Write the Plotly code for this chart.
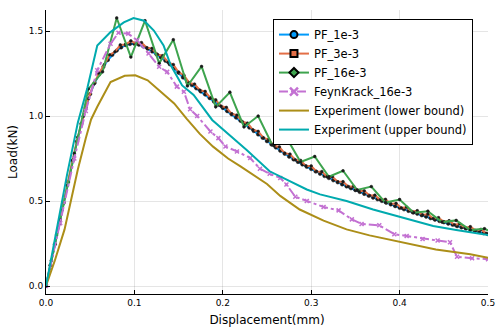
import plotly.graph_objects as go

# PF_1e-3 (read every 0.005 mm)
pf1_x = [i * 0.005 for i in range(101)]
pf1_y = [0, 0.122, 0.245, 0.367, 0.49, 0.612, 0.735, 0.85, 0.955, 1.05,
         1.13, 1.195, 1.245, 1.29, 1.33, 1.36, 1.385, 1.404, 1.418, 1.424,
         1.425, 1.42, 1.41, 1.396, 1.38, 1.363, 1.345, 1.326, 1.305, 1.28,
         1.255, 1.227, 1.20, 1.182, 1.163, 1.145, 1.127, 1.106, 1.085, 1.066,
         1.048, 1.029, 1.01, 0.991, 0.972, 0.952, 0.932, 0.912, 0.892, 0.872,
         0.852, 0.833, 0.815, 0.796, 0.778, 0.761, 0.745, 0.73, 0.715, 0.701,
         0.688, 0.674, 0.66, 0.647, 0.635, 0.622, 0.61, 0.598, 0.586, 0.575,
         0.564, 0.553, 0.542, 0.531, 0.52, 0.51, 0.5, 0.49, 0.48, 0.47,
         0.46, 0.451, 0.442, 0.433, 0.425, 0.416, 0.408, 0.399, 0.39, 0.382,
         0.375, 0.367, 0.36, 0.352, 0.345, 0.338, 0.331, 0.324, 0.318, 0.311,
         0.305]

# PF_3e-3 (read every 0.006 mm)
pf3_x = [i * 0.006 for i in range(84)]
pf3_y = [0, 0.15, 0.30, 0.445, 0.592, 0.74, 0.876, 0.998, 1.104, 1.188,
         1.252, 1.303, 1.36, 1.378, 1.418, 1.421, 1.442, 1.426, 1.432, 1.402,
         1.398, 1.362, 1.355, 1.316, 1.303, 1.258, 1.24, 1.195, 1.188, 1.152,
         1.145, 1.105, 1.095, 1.058, 1.051, 1.013, 1.005, 0.967, 0.958, 0.919,
         0.91, 0.871, 0.862, 0.825, 0.818, 0.781, 0.776, 0.742, 0.739, 0.707,
         0.706, 0.674, 0.673, 0.643, 0.643, 0.613, 0.614, 0.585, 0.586, 0.558,
         0.56, 0.532, 0.534, 0.507, 0.51, 0.483, 0.486, 0.459, 0.464, 0.438,
         0.443, 0.418, 0.423, 0.397, 0.402, 0.378, 0.384, 0.36, 0.366, 0.342,
         0.349, 0.326, 0.333, 0.31]

# PF_16e-3 (every 0.016 mm)
pf16_x = [i * 0.016 for i in range(33)]
pf16_y = [0, 0.39, 0.78, 1.16, 1.26, 1.577, 1.347, 1.561, 1.31, 1.449,
          1.177, 1.292, 1.054, 1.14, 0.936, 1.0, 0.83, 0.873, 0.73, 0.762,
          0.643, 0.678, 0.565, 0.585, 0.491, 0.509, 0.431, 0.44, 0.376, 0.386,
          0.329, 0.337, 0.3]

# FeynKrack_16e-3
fk_x = [0, 0.016, 0.032, 0.045, 0.058, 0.073, 0.082, 0.093, 0.103, 0.116,
        0.128, 0.137, 0.148, 0.156, 0.163, 0.171, 0.186, 0.195, 0.203, 0.216,
        0.231, 0.242, 0.253, 0.265, 0.272, 0.282, 0.295, 0.314, 0.331, 0.346,
        0.357, 0.377, 0.394, 0.408, 0.426, 0.443, 0.457, 0.465, 0.482, 0.5]
fk_y = [0, 0.37, 0.75, 1.03, 1.27, 1.425, 1.49, 1.485, 1.446, 1.368,
        1.29, 1.26, 1.173, 1.143, 1.04, 1.0, 0.909, 0.87, 0.821, 0.792,
        0.753, 0.69, 0.66, 0.636, 0.597, 0.525, 0.5, 0.465, 0.445, 0.392,
        0.365, 0.357, 0.305, 0.294, 0.277, 0.268, 0.257, 0.172, 0.163, 0.158]

# Experiment (lower bound)
lo_x = [0, 0.01, 0.021, 0.029, 0.036, 0.045, 0.051, 0.058, 0.073, 0.089,
        0.101, 0.115, 0.128, 0.145, 0.159, 0.174, 0.189, 0.206, 0.22, 0.25,
        0.265, 0.287, 0.314, 0.34, 0.366, 0.4, 0.441, 0.48, 0.5]
lo_y = [0, 0.15, 0.333, 0.52, 0.685, 0.87, 0.98, 1.055, 1.2, 1.237,
        1.24, 1.21, 1.152, 1.074, 0.985, 0.895, 0.82, 0.75, 0.704, 0.6,
        0.53, 0.45, 0.385, 0.333, 0.298, 0.26, 0.215, 0.187, 0.166]

# Experiment (upper bound)
up_x = [0, 0.012, 0.024, 0.036, 0.047, 0.058, 0.073, 0.088, 0.099, 0.111,
        0.122, 0.133, 0.141, 0.154, 0.167, 0.188, 0.207, 0.227, 0.253, 0.276,
        0.295, 0.31, 0.34, 0.37, 0.404, 0.438, 0.464, 0.5]
up_y = [0, 0.33, 0.66, 0.96, 1.17, 1.415, 1.494, 1.551, 1.577, 1.561,
        1.503, 1.415, 1.30, 1.18, 1.124, 0.977, 0.89, 0.80, 0.675, 0.616,
        0.568, 0.539, 0.5, 0.45, 0.40, 0.353, 0.33, 0.30]

names = ["PF_1e-3", "PF_3e-3", "PF_16e-3", "FeynKrack_16e-3",
         "Experiment (lower bound)", "Experiment (upper bound)"]
colors = ["#009AFA", "#E36F47", "#3EA44E", "#C371D2", "#AC8E18", "#00AAAE"]

fig = go.Figure()

series = [(pf1_x, pf1_y), (pf3_x, pf3_y), (pf16_x, pf16_y),
          (fk_x, fk_y), (lo_x, lo_y), (up_x, up_y)]
symbols = ["circle", "square", "diamond", "x", None, None]
msizes = [3.5, 2.8, 2.8]

for i, (xs, ys) in enumerate(series):
    if i < 3:
        mode = "lines+markers"
        marker = dict(size=msizes[i], color="#1a1a1a", line=dict(color="#1a1a1a", width=0.5), symbol="circle")
        line = dict(color=colors[i], width=2)
    elif i == 3:
        mode = "lines+markers"
        marker = dict(size=4, color=colors[i], symbol="x-thin", line=dict(color=colors[i], width=1.5))
        line = dict(color=colors[i], width=2, dash="dashdot")
    else:
        mode = "lines"
        marker = None
        line = dict(color=colors[i], width=2)
    fig.add_trace(go.Scatter(x=xs, y=ys, mode=mode, line=line, marker=marker,
                             showlegend=False, hoverinfo="skip"))

# legend entries with bigger symbols
for i in range(6):
    if i < 3:
        mk = dict(size=7, color=colors[i], symbol=symbols[i], line=dict(color="black", width=2))
        mode = "lines+markers"
        ln = dict(color=colors[i], width=2)
    elif i == 3:
        mk = dict(size=8, color=colors[i], symbol="x-thin", line=dict(color=colors[i], width=2.5))
        mode = "lines+markers"
        ln = dict(color=colors[i], width=2, dash="dashdot")
    else:
        mk = None
        mode = "lines"
        ln = dict(color=colors[i], width=2)
    fig.add_trace(go.Scatter(x=[None], y=[None], mode=mode, name=names[i],
                             line=ln, marker=mk))

axis_common = dict(
    showline=True, linecolor="black", linewidth=1, mirror=False,
    ticks="inside", ticklen=4, tickcolor="black",
    showgrid=True, gridcolor="rgba(0,0,0,0.1)", gridwidth=0.5,
    zeroline=False, tickfont=dict(size=9, color="black"), automargin=False,
)

fig.update_xaxes(range=[0, 0.5], dtick=0.1, tickformat=".1f",
                 title=dict(text="Displacement(mm)", font=dict(size=12), standoff=8),
                 **axis_common)
fig.update_yaxes(range=[-0.047, 1.624], dtick=0.5, tickformat=".1f",
                 title=dict(text="Load(kN)", font=dict(size=12), standoff=8),
                 **axis_common)

fig.update_layout(
    width=498, height=332,
    margin=dict(l=46, r=10, t=10, b=38),
    plot_bgcolor="white", paper_bgcolor="white",
    font=dict(family="DejaVu Sans", color="black"),
    legend=dict(x=0.966, y=0.968, xanchor="right", yanchor="top",
                bordercolor="black", borderwidth=1, bgcolor="white",
                font=dict(size=11.5), tracegroupgap=0),
)

fig.write_html("out.html", config={"displayModeBar": False},
               post_script="document.body.style.margin='0';")
